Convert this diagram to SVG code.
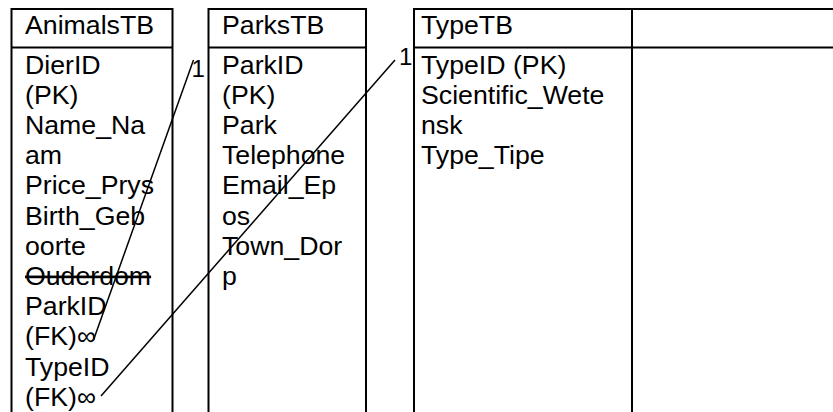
<svg xmlns="http://www.w3.org/2000/svg" width="833" height="412" viewBox="0 0 833 412">
<style>
  .b { stroke: #000; stroke-width: 2; fill: none; }
  .t { font-family: "Liberation Sans", Arial, sans-serif; font-size: 26.7px; fill: #000; }
  .c { stroke: #000; stroke-width: 1.5; fill: none; }
  .l { font-family: "Liberation Sans", Arial, sans-serif; font-size: 24px; fill: #000; }
</style>
<rect width="833" height="412" fill="#fff"/>
<g id="AnimalsTB">
  <path class="b" d="M11.5 412 V9 H172.5 V412 M11.5 47.5 H172.5"/>
  <text class="t" x="25" y="34">AnimalsTB</text>
  <text class="t" x="25" y="73.5">DierID</text>
  <text class="t" x="25" y="103.7">(PK)</text>
  <text class="t" x="25" y="133.9">Name_Na</text>
  <text class="t" x="25" y="164.1">am</text>
  <text class="t" x="25" y="194.3">Price_Prys</text>
  <text class="t" x="25" y="224.5">Birth_Geb</text>
  <text class="t" x="25" y="254.7">oorte</text>
  <text class="t" x="25" y="284.9" text-decoration="line-through">Ouderdom</text>
  <text class="t" x="25" y="315.1">ParkID</text>
  <text class="t" x="25" y="345.3">(FK)∞</text>
  <text class="t" x="25" y="375.5">TypeID</text>
  <text class="t" x="25" y="405.7">(FK)∞</text>
</g>
<g id="ParksTB">
  <path class="b" d="M208.5 412 V9 H366 V412 M208.5 47.5 H366"/>
  <text class="t" x="222" y="34">ParksTB</text>
  <text class="t" x="222" y="73.5">ParkID</text>
  <text class="t" x="222" y="103.7">(PK)</text>
  <text class="t" x="222" y="133.9">Park</text>
  <text class="t" x="222" y="164.1">Telephone</text>
  <text class="t" x="222" y="194.3">Email_Ep</text>
  <text class="t" x="222" y="224.5">os</text>
  <text class="t" x="222" y="254.7">Town_Dor</text>
  <text class="t" x="222" y="284.9">p</text>
</g>
<g id="TypeTB">
  <path class="b" d="M414 412 V9 H833 M414 47.5 H833 M632 9 V412"/>
  <text class="t" x="421" y="34">TypeTB</text>
  <text class="t" x="421" y="73.5">TypeID (PK)</text>
  <text class="t" x="421" y="103.7">Scientific_Wete</text>
  <text class="t" x="421" y="133.9">nsk</text>
  <text class="t" x="421" y="164.1">Type_Tipe</text>
</g>
<g id="connectors">
  <line class="c" x1="93.5" y1="340" x2="193.5" y2="60"/>
  <text class="l" x="191.5" y="76.7">1</text>
  <line class="c" x1="101" y1="396" x2="395" y2="60"/>
  <text class="l" x="399" y="65">1</text>
</g>
</svg>
